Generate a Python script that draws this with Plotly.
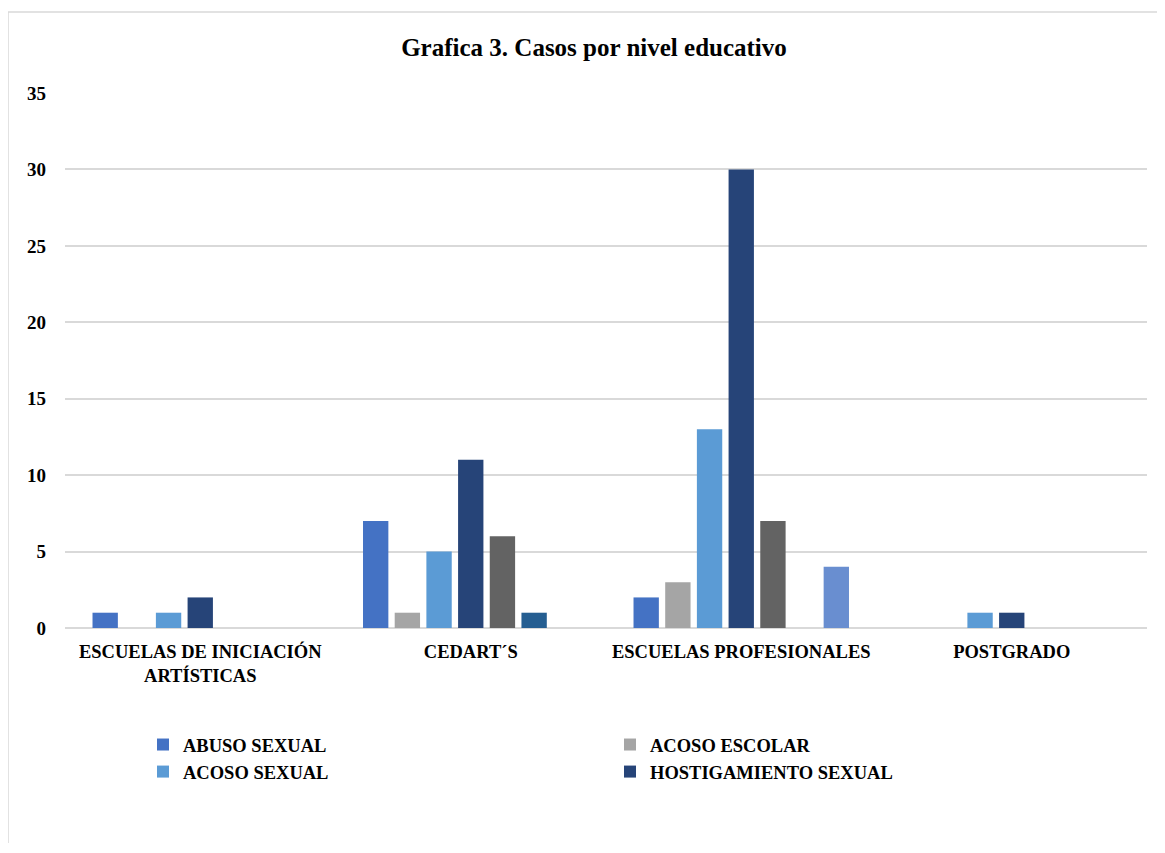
import plotly.graph_objects as go

# niveles educativos (eje x)
niveles = ["ESCUELAS DE INICIACIÓN<br>ARTÍSTICAS", "CEDART´S", "ESCUELAS PROFESIONALES", "POSTGRADO"]

# casos por tipo
abuso_sexual = [1, 7, 2, 0]
acoso_escolar = [0, 1, 3, 0]
acoso_sexual = [1, 5, 13, 1]
hostigamiento_sexual = [2, 11, 30, 1]
serie_5 = [0, 6, 7, 0]
serie_6 = [0, 1, 0, 0]
serie_7 = [0, 0, 4, 0]

series = [
    ("ABUSO SEXUAL", abuso_sexual, "#4472C4", True),
    ("ACOSO ESCOLAR", acoso_escolar, "#A5A5A5", True),
    ("ACOSO SEXUAL", acoso_sexual, "#5B9BD5", True),
    ("HOSTIGAMIENTO SEXUAL", hostigamiento_sexual, "#264478", True),
    ("OTRO 1", serie_5, "#636363", False),
    ("OTRO 2", serie_6, "#255E91", False),
    ("OTRO 3", serie_7, "#698ED0", False),
]

FONT = "Liberation Serif, Times New Roman, serif"

fig = go.Figure()
for name, vals, color, show in series:
    fig.add_trace(go.Bar(x=niveles, y=vals, name="<b>" + name + "</b>", marker_color=color,
                         marker_line_width=0, showlegend=show))

# the page has an 8px body margin, so work in screen pixels minus 8
OFF = 8
W, H = 1149, 835
L, T = 65 - OFF, 93 - OFF
R = W - (1147 - OFF)
B = H - (628 - OFF)
pw = W - L - R
ph = H - T - B

def px_x(p):
    return (p - OFF - L) / pw

def px_y(p):
    return (H - B - (p - OFF)) / ph

# marco gris del grafico
fig.add_shape(type="rect", xref="paper", yref="paper",
              x0=px_x(8), x1=px_x(1185), y0=px_y(880), y1=px_y(12),
              line=dict(color="#D9D9D9", width=1.5), layer="below")

fig.update_layout(
    width=W, height=H,
    margin=dict(l=L, r=R, t=T, b=B),
    paper_bgcolor="white", plot_bgcolor="white",
    font=dict(family=FONT, color="black"),
    title=dict(text="<b>Grafica 3. Casos por nivel educativo</b>",
               x=px_x(594), xref="paper", xanchor="center",
               y=1 - (47 - OFF) / H, yanchor="middle",
               font=dict(size=25, family=FONT)),
    barmode="group", bargap=0.18, bargroupgap=0.2,
    legend=dict(orientation="h", x=px_x(143), y=px_y(726), xanchor="left", yanchor="top",
                entrywidth=422, entrywidthmode="pixels", itemwidth=30,
                font=dict(size=18.5, family=FONT), tracegroupgap=0,
                traceorder="normal"),
)

fig.update_xaxes(showgrid=False, showline=False, ticks="", ticklabelstandoff=10,
                 tickfont=dict(size=18.5, family=FONT), tickprefix="<b>", ticksuffix="</b>")
fig.update_yaxes(range=[0, 35], dtick=5, showgrid=True, gridcolor="#D9D9D9", gridwidth=1.5,
                 zeroline=True, zerolinecolor="#D9D9D9", zerolinewidth=1.5,
                 showline=False, ticks="", ticklabelstandoff=18,
                 tickfont=dict(size=19, family=FONT), tickprefix="<b>", ticksuffix="</b>")

fig.write_html("out.html")
